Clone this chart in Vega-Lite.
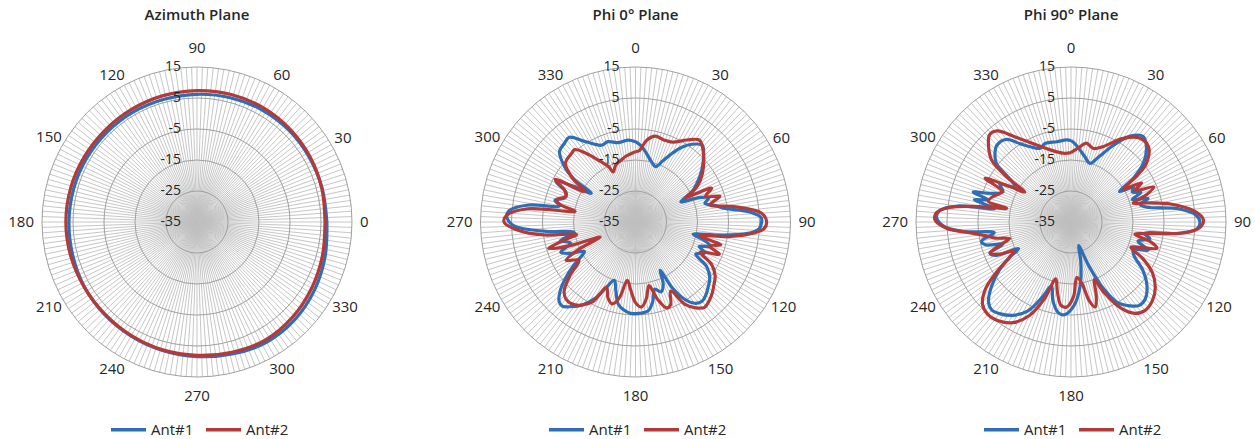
{
"$schema": "https://vega.github.io/schema/vega-lite/v6.json",
"padding": 0,
"spacing": 0,
"bounds": "flush",
"config": {"view": {"stroke": null}, "font": "Open Sans"},
"resolve": {"scale": {"color": "independent"}, "legend": {"color": "independent"}},
"datasets": {
"spokes": [{"a":0},{"a":2},{"a":4},{"a":6},{"a":8},{"a":10},{"a":12},{"a":14},{"a":16},{"a":18},{"a":20},{"a":22},{"a":24},{"a":26},{"a":28},{"a":30},{"a":32},{"a":34},{"a":36},{"a":38},{"a":40},{"a":42},{"a":44},{"a":46},{"a":48},{"a":50},{"a":52},{"a":54},{"a":56},{"a":58},{"a":60},{"a":62},{"a":64},{"a":66},{"a":68},{"a":70},{"a":72},{"a":74},{"a":76},{"a":78},{"a":80},{"a":82},{"a":84},{"a":86},{"a":88},{"a":90},{"a":92},{"a":94},{"a":96},{"a":98},{"a":100},{"a":102},{"a":104},{"a":106},{"a":108},{"a":110},{"a":112},{"a":114},{"a":116},{"a":118},{"a":120},{"a":122},{"a":124},{"a":126},{"a":128},{"a":130},{"a":132},{"a":134},{"a":136},{"a":138},{"a":140},{"a":142},{"a":144},{"a":146},{"a":148},{"a":150},{"a":152},{"a":154},{"a":156},{"a":158},{"a":160},{"a":162},{"a":164},{"a":166},{"a":168},{"a":170},{"a":172},{"a":174},{"a":176},{"a":178},{"a":180},{"a":182},{"a":184},{"a":186},{"a":188},{"a":190},{"a":192},{"a":194},{"a":196},{"a":198},{"a":200},{"a":202},{"a":204},{"a":206},{"a":208},{"a":210},{"a":212},{"a":214},{"a":216},{"a":218},{"a":220},{"a":222},{"a":224},{"a":226},{"a":228},{"a":230},{"a":232},{"a":234},{"a":236},{"a":238},{"a":240},{"a":242},{"a":244},{"a":246},{"a":248},{"a":250},{"a":252},{"a":254},{"a":256},{"a":258},{"a":260},{"a":262},{"a":264},{"a":266},{"a":268},{"a":270},{"a":272},{"a":274},{"a":276},{"a":278},{"a":280},{"a":282},{"a":284},{"a":286},{"a":288},{"a":290},{"a":292},{"a":294},{"a":296},{"a":298},{"a":300},{"a":302},{"a":304},{"a":306},{"a":308},{"a":310},{"a":312},{"a":314},{"a":316},{"a":318},{"a":320},{"a":322},{"a":324},{"a":326},{"a":328},{"a":330},{"a":332},{"a":334},{"a":336},{"a":338},{"a":340},{"a":342},{"a":344},{"a":346},{"a":348},{"a":350},{"a":352},{"a":354},{"a":356},{"a":358}],
"rings": [{"v":15},{"v":5},{"v":-5},{"v":-15},{"v":-25},{"v":-35}],
"angles": [{"a":0},{"a":30},{"a":60},{"a":90},{"a":120},{"a":150},{"a":180},{"a":210},{"a":240},{"a":270},{"a":300},{"a":330}],
"az": [
{"ant":"Ant#1","a":0,"v":6.9},{"ant":"Ant#1","a":15,"v":6.8},{"ant":"Ant#1","a":30,"v":6.8},{"ant":"Ant#1","a":45,"v":6.9},{"ant":"Ant#1","a":60,"v":6.8},{"ant":"Ant#1","a":75,"v":6.5},{"ant":"Ant#1","a":90,"v":6.2},{"ant":"Ant#1","a":105,"v":6.0},{"ant":"Ant#1","a":120,"v":6.0},{"ant":"Ant#1","a":135,"v":6.0},{"ant":"Ant#1","a":150,"v":6.1},{"ant":"Ant#1","a":165,"v":6.2},{"ant":"Ant#1","a":180,"v":6.3},{"ant":"Ant#1","a":195,"v":6.5},{"ant":"Ant#1","a":210,"v":6.9},{"ant":"Ant#1","a":225,"v":7.2},{"ant":"Ant#1","a":240,"v":7.5},{"ant":"Ant#1","a":255,"v":7.9},{"ant":"Ant#1","a":270,"v":8.4},{"ant":"Ant#1","a":285,"v":9.1},{"ant":"Ant#1","a":300,"v":9.8},{"ant":"Ant#1","a":315,"v":9.6},{"ant":"Ant#1","a":330,"v":8.8},{"ant":"Ant#1","a":345,"v":7.8},{"ant":"Ant#1","a":360,"v":6.9},
{"ant":"Ant#2","a":0,"v":6.3},{"ant":"Ant#2","a":15,"v":6.7},{"ant":"Ant#2","a":30,"v":7.1},{"ant":"Ant#2","a":45,"v":7.4},{"ant":"Ant#2","a":60,"v":7.6},{"ant":"Ant#2","a":75,"v":7.6},{"ant":"Ant#2","a":90,"v":7.4},{"ant":"Ant#2","a":105,"v":7.2},{"ant":"Ant#2","a":120,"v":7.0},{"ant":"Ant#2","a":135,"v":6.9},{"ant":"Ant#2","a":150,"v":7.0},{"ant":"Ant#2","a":165,"v":7.2},{"ant":"Ant#2","a":180,"v":7.3},{"ant":"Ant#2","a":195,"v":7.2},{"ant":"Ant#2","a":210,"v":7.0},{"ant":"Ant#2","a":225,"v":7.0},{"ant":"Ant#2","a":240,"v":7.3},{"ant":"Ant#2","a":255,"v":7.7},{"ant":"Ant#2","a":270,"v":8.0},{"ant":"Ant#2","a":285,"v":8.5},{"ant":"Ant#2","a":300,"v":9.0},{"ant":"Ant#2","a":315,"v":8.5},{"ant":"Ant#2","a":330,"v":7.7},{"ant":"Ant#2","a":345,"v":6.9},{"ant":"Ant#2","a":360,"v":6.3}
],
"p0": [
{"ant":"Ant#1","a":0,"v":-9.1},{"ant":"Ant#1","a":4,"v":-10.3},{"ant":"Ant#1","a":8,"v":-12.1},{"ant":"Ant#1","a":14,"v":-14.6},{"ant":"Ant#1","a":20,"v":-16},{"ant":"Ant#1","a":24,"v":-13.5},{"ant":"Ant#1","a":28,"v":-10},{"ant":"Ant#1","a":32,"v":-6.5},{"ant":"Ant#1","a":36,"v":-4},{"ant":"Ant#1","a":41,"v":-2.2},{"ant":"Ant#1","a":45,"v":-3.9},{"ant":"Ant#1","a":52,"v":-7.9},{"ant":"Ant#1","a":58,"v":-11.7},{"ant":"Ant#1","a":62,"v":-14.4},{"ant":"Ant#1","a":66,"v":-19},{"ant":"Ant#1","a":69,"v":-13},{"ant":"Ant#1","a":72,"v":-10.2},{"ant":"Ant#1","a":75,"v":-11.8},{"ant":"Ant#1","a":78,"v":-9},{"ant":"Ant#1","a":81,"v":-6.3},{"ant":"Ant#1","a":85,"v":2},{"ant":"Ant#1","a":88,"v":5.6},{"ant":"Ant#1","a":90,"v":5.7},{"ant":"Ant#1","a":93,"v":5},{"ant":"Ant#1","a":96,"v":1},{"ant":"Ant#1","a":99,"v":-8},{"ant":"Ant#1","a":102,"v":-16},{"ant":"Ant#1","a":105,"v":-12},{"ant":"Ant#1","a":108,"v":-9.5},{"ant":"Ant#1","a":111,"v":-13},{"ant":"Ant#1","a":114,"v":-10.5},{"ant":"Ant#1","a":118,"v":-13},{"ant":"Ant#1","a":122,"v":-8},{"ant":"Ant#1","a":127,"v":-5},{"ant":"Ant#1","a":132,"v":-3.5},{"ant":"Ant#1","a":136,"v":-2.3},{"ant":"Ant#1","a":140,"v":-1.6},{"ant":"Ant#1","a":144,"v":-2.6},{"ant":"Ant#1","a":148,"v":-6},{"ant":"Ant#1","a":151,"v":-11},{"ant":"Ant#1","a":153,"v":-17.5},{"ant":"Ant#1","a":156,"v":-13},{"ant":"Ant#1","a":160,"v":-11},{"ant":"Ant#1","a":164,"v":-12.5},{"ant":"Ant#1","a":168,"v":-8.5},{"ant":"Ant#1","a":172,"v":-6},{"ant":"Ant#1","a":178,"v":-5.5},{"ant":"Ant#1","a":183,"v":-5.5},{"ant":"Ant#1","a":188,"v":-6.5},{"ant":"Ant#1","a":192,"v":-8},{"ant":"Ant#1","a":196,"v":-12},{"ant":"Ant#1","a":200,"v":-15},{"ant":"Ant#1","a":204,"v":-12},{"ant":"Ant#1","a":208,"v":-7},{"ant":"Ant#1","a":213,"v":-3},{"ant":"Ant#1","a":218,"v":-0.3},{"ant":"Ant#1","a":221,"v":1.0},{"ant":"Ant#1","a":224,"v":0.5},{"ant":"Ant#1","a":228,"v":-2.5},{"ant":"Ant#1","a":232,"v":-7},{"ant":"Ant#1","a":236,"v":-12},{"ant":"Ant#1","a":240,"v":-16},{"ant":"Ant#1","a":244,"v":-12},{"ant":"Ant#1","a":248,"v":-9},{"ant":"Ant#1","a":252,"v":-13},{"ant":"Ant#1","a":256,"v":-10},{"ant":"Ant#1","a":260,"v":-15},{"ant":"Ant#1","a":264,"v":-6},{"ant":"Ant#1","a":268,"v":4},{"ant":"Ant#1","a":272,"v":6.5},{"ant":"Ant#1","a":275,"v":6},{"ant":"Ant#1","a":279,"v":0},{"ant":"Ant#1","a":282,"v":-10},{"ant":"Ant#1","a":285,"v":-8.1},{"ant":"Ant#1","a":289,"v":-11},{"ant":"Ant#1","a":293,"v":-10.7},{"ant":"Ant#1","a":297,"v":-6.2},{"ant":"Ant#1","a":300,"v":-12},{"ant":"Ant#1","a":303,"v":-18},{"ant":"Ant#1","a":305,"v":-10.4},{"ant":"Ant#1","a":308,"v":-5.9},{"ant":"Ant#1","a":313,"v":-1.5},{"ant":"Ant#1","a":318,"v":-0.8},{"ant":"Ant#1","a":322,"v":-0.3},{"ant":"Ant#1","a":328,"v":-4.4},{"ant":"Ant#1","a":336,"v":-7.9},{"ant":"Ant#1","a":341,"v":-7.6},{"ant":"Ant#1","a":348,"v":-8.8},{"ant":"Ant#1","a":355,"v":-8.5},{"ant":"Ant#1","a":360,"v":-9.1},
{"ant":"Ant#2","a":0,"v":-12.3},{"ant":"Ant#2","a":3,"v":-12},{"ant":"Ant#2","a":5,"v":-10.6},{"ant":"Ant#2","a":8,"v":-8.3},{"ant":"Ant#2","a":13,"v":-6.6},{"ant":"Ant#2","a":19,"v":-7},{"ant":"Ant#2","a":25,"v":-6.6},{"ant":"Ant#2","a":32,"v":-3.8},{"ant":"Ant#2","a":38,"v":-1.5},{"ant":"Ant#2","a":43,"v":-3.1},{"ant":"Ant#2","a":51,"v":-6.8},{"ant":"Ant#2","a":57,"v":-10},{"ant":"Ant#2","a":61,"v":-13},{"ant":"Ant#2","a":64,"v":-17},{"ant":"Ant#2","a":66,"v":-8.1},{"ant":"Ant#2","a":70,"v":-11},{"ant":"Ant#2","a":73,"v":-6.5},{"ant":"Ant#2","a":77,"v":-10.4},{"ant":"Ant#2","a":81,"v":-3},{"ant":"Ant#2","a":86,"v":5.8},{"ant":"Ant#2","a":90,"v":7.3},{"ant":"Ant#2","a":93,"v":6.5},{"ant":"Ant#2","a":96,"v":2},{"ant":"Ant#2","a":99,"v":-5},{"ant":"Ant#2","a":102,"v":-13.8},{"ant":"Ant#2","a":105,"v":-6.5},{"ant":"Ant#2","a":108,"v":-10},{"ant":"Ant#2","a":111,"v":-6},{"ant":"Ant#2","a":115,"v":-12},{"ant":"Ant#2","a":119,"v":-7},{"ant":"Ant#2","a":124,"v":-4},{"ant":"Ant#2","a":129,"v":-2.5},{"ant":"Ant#2","a":133,"v":-1.2},{"ant":"Ant#2","a":137,"v":-0.2},{"ant":"Ant#2","a":141,"v":0.4},{"ant":"Ant#2","a":145,"v":-1.2},{"ant":"Ant#2","a":149,"v":-4},{"ant":"Ant#2","a":153,"v":-10},{"ant":"Ant#2","a":157,"v":-6},{"ant":"Ant#2","a":160,"v":-5.5},{"ant":"Ant#2","a":164,"v":-9},{"ant":"Ant#2","a":168,"v":-14},{"ant":"Ant#2","a":172,"v":-10},{"ant":"Ant#2","a":176,"v":-7.5},{"ant":"Ant#2","a":180,"v":-9},{"ant":"Ant#2","a":184,"v":-13},{"ant":"Ant#2","a":188,"v":-16},{"ant":"Ant#2","a":192,"v":-10},{"ant":"Ant#2","a":196,"v":-7.5},{"ant":"Ant#2","a":200,"v":-9},{"ant":"Ant#2","a":204,"v":-12},{"ant":"Ant#2","a":208,"v":-6},{"ant":"Ant#2","a":213,"v":-3},{"ant":"Ant#2","a":218,"v":-1.5},{"ant":"Ant#2","a":222,"v":-1.5},{"ant":"Ant#2","a":226,"v":-3},{"ant":"Ant#2","a":231,"v":-8},{"ant":"Ant#2","a":236,"v":-13},{"ant":"Ant#2","a":241,"v":-9.4},{"ant":"Ant#2","a":244,"v":-14},{"ant":"Ant#2","a":247,"v":-22.6},{"ant":"Ant#2","a":250,"v":-13},{"ant":"Ant#2","a":253,"v":-5.7},{"ant":"Ant#2","a":256,"v":-12},{"ant":"Ant#2","a":258,"v":-15.6},{"ant":"Ant#2","a":262,"v":-5},{"ant":"Ant#2","a":266,"v":3},{"ant":"Ant#2","a":270,"v":7.4},{"ant":"Ant#2","a":273,"v":6.6},{"ant":"Ant#2","a":277,"v":0},{"ant":"Ant#2","a":280,"v":-15.2},{"ant":"Ant#2","a":283,"v":-10},{"ant":"Ant#2","a":286,"v":-8.6},{"ant":"Ant#2","a":290,"v":-11},{"ant":"Ant#2","a":294,"v":-10},{"ant":"Ant#2","a":298,"v":-5.6},{"ant":"Ant#2","a":301,"v":-16},{"ant":"Ant#2","a":305,"v":-10},{"ant":"Ant#2","a":310,"v":-5.5},{"ant":"Ant#2","a":317,"v":-4.75},{"ant":"Ant#2","a":320,"v":-4.5},{"ant":"Ant#2","a":324,"v":-7.5},{"ant":"Ant#2","a":329,"v":-11.7},{"ant":"Ant#2","a":334,"v":-15.1},{"ant":"Ant#2","a":336,"v":-17.3},{"ant":"Ant#2","a":341,"v":-15.5},{"ant":"Ant#2","a":347,"v":-14.5},{"ant":"Ant#2","a":352,"v":-13.5},{"ant":"Ant#2","a":357,"v":-12.8},{"ant":"Ant#2","a":360,"v":-12.3}
],
"p90": [
{"ant":"Ant#1","a":0,"v":-8.7},{"ant":"Ant#1","a":2,"v":-9.4},{"ant":"Ant#1","a":6,"v":-11.1},{"ant":"Ant#1","a":12,"v":-13.5},{"ant":"Ant#1","a":18,"v":-15.1},{"ant":"Ant#1","a":23,"v":-12.2},{"ant":"Ant#1","a":29,"v":-6.7},{"ant":"Ant#1","a":34.5,"v":-1.4},{"ant":"Ant#1","a":40,"v":1.1},{"ant":"Ant#1","a":45,"v":-0.6},{"ant":"Ant#1","a":51,"v":-5},{"ant":"Ant#1","a":55,"v":-10.5},{"ant":"Ant#1","a":58,"v":-16.5},{"ant":"Ant#1","a":61,"v":-12},{"ant":"Ant#1","a":64,"v":-13},{"ant":"Ant#1","a":67,"v":-10.5},{"ant":"Ant#1","a":70,"v":-14},{"ant":"Ant#1","a":73,"v":-9},{"ant":"Ant#1","a":76,"v":-12},{"ant":"Ant#1","a":79,"v":-10},{"ant":"Ant#1","a":83,"v":0},{"ant":"Ant#1","a":87,"v":5.5},{"ant":"Ant#1","a":90,"v":6.6},{"ant":"Ant#1","a":93,"v":5.8},{"ant":"Ant#1","a":96,"v":0},{"ant":"Ant#1","a":99,"v":-11},{"ant":"Ant#1","a":102,"v":-9},{"ant":"Ant#1","a":106,"v":-12.5},{"ant":"Ant#1","a":110,"v":-8.5},{"ant":"Ant#1","a":114,"v":-13},{"ant":"Ant#1","a":118,"v":-12},{"ant":"Ant#1","a":124,"v":-7},{"ant":"Ant#1","a":130,"v":-3},{"ant":"Ant#1","a":136,"v":-0.5},{"ant":"Ant#1","a":141,"v":-0.3},{"ant":"Ant#1","a":145,"v":-2},{"ant":"Ant#1","a":150,"v":-5},{"ant":"Ant#1","a":154,"v":-11},{"ant":"Ant#1","a":158,"v":-20},{"ant":"Ant#1","a":162,"v":-27},{"ant":"Ant#1","a":166,"v":-22},{"ant":"Ant#1","a":172,"v":-14},{"ant":"Ant#1","a":178,"v":-8},{"ant":"Ant#1","a":184,"v":-5},{"ant":"Ant#1","a":188,"v":-5.5},{"ant":"Ant#1","a":193,"v":-9},{"ant":"Ant#1","a":197,"v":-13.5},{"ant":"Ant#1","a":201,"v":-9},{"ant":"Ant#1","a":206,"v":-3},{"ant":"Ant#1","a":212,"v":0.5},{"ant":"Ant#1","a":218,"v":2.5},{"ant":"Ant#1","a":222,"v":3.2},{"ant":"Ant#1","a":226,"v":2},{"ant":"Ant#1","a":231,"v":-2},{"ant":"Ant#1","a":236,"v":-7},{"ant":"Ant#1","a":240,"v":-12},{"ant":"Ant#1","a":243,"v":-16},{"ant":"Ant#1","a":246,"v":-8.5},{"ant":"Ant#1","a":249,"v":-7},{"ant":"Ant#1","a":252,"v":-12},{"ant":"Ant#1","a":255,"v":-6.5},{"ant":"Ant#1","a":258,"v":-5.5},{"ant":"Ant#1","a":262,"v":-10},{"ant":"Ant#1","a":265,"v":0},{"ant":"Ant#1","a":268,"v":6},{"ant":"Ant#1","a":272,"v":8.4},{"ant":"Ant#1","a":275,"v":7.5},{"ant":"Ant#1","a":278,"v":2},{"ant":"Ant#1","a":280,"v":-10},{"ant":"Ant#1","a":283,"v":-3},{"ant":"Ant#1","a":285,"v":-7.4},{"ant":"Ant#1","a":287,"v":-2},{"ant":"Ant#1","a":290,"v":-8},{"ant":"Ant#1","a":294,"v":-11},{"ant":"Ant#1","a":298,"v":-9},{"ant":"Ant#1","a":302,"v":-14},{"ant":"Ant#1","a":305,"v":-11},{"ant":"Ant#1","a":308,"v":-4.5},{"ant":"Ant#1","a":312,"v":-2},{"ant":"Ant#1","a":316,"v":-0.6},{"ant":"Ant#1","a":322,"v":-1.2},{"ant":"Ant#1","a":327,"v":-4.9},{"ant":"Ant#1","a":333,"v":-8},{"ant":"Ant#1","a":337,"v":-9.2},{"ant":"Ant#1","a":342,"v":-8.3},{"ant":"Ant#1","a":350,"v":-8.7},{"ant":"Ant#1","a":357,"v":-8.5},{"ant":"Ant#1","a":360,"v":-8.7},
{"ant":"Ant#2","a":0,"v":-12.6},{"ant":"Ant#2","a":4,"v":-11.5},{"ant":"Ant#2","a":7,"v":-10.5},{"ant":"Ant#2","a":11,"v":-9.1},{"ant":"Ant#2","a":17,"v":-10.2},{"ant":"Ant#2","a":23,"v":-8.6},{"ant":"Ant#2","a":32,"v":-3.2},{"ant":"Ant#2","a":39.5,"v":0},{"ant":"Ant#2","a":46,"v":-0.2},{"ant":"Ant#2","a":52,"v":-4.1},{"ant":"Ant#2","a":55,"v":-9},{"ant":"Ant#2","a":58,"v":-15},{"ant":"Ant#2","a":61,"v":-9},{"ant":"Ant#2","a":64,"v":-12},{"ant":"Ant#2","a":67,"v":-6},{"ant":"Ant#2","a":70,"v":-9},{"ant":"Ant#2","a":73,"v":-14},{"ant":"Ant#2","a":76,"v":-9.5},{"ant":"Ant#2","a":80,"v":-2},{"ant":"Ant#2","a":85,"v":5},{"ant":"Ant#2","a":89,"v":7.7},{"ant":"Ant#2","a":92,"v":7},{"ant":"Ant#2","a":95,"v":3},{"ant":"Ant#2","a":98,"v":-8},{"ant":"Ant#2","a":101,"v":-14},{"ant":"Ant#2","a":104,"v":-8.5},{"ant":"Ant#2","a":107,"v":-6},{"ant":"Ant#2","a":110,"v":-11},{"ant":"Ant#2","a":113,"v":-14},{"ant":"Ant#2","a":117,"v":-9},{"ant":"Ant#2","a":122,"v":-4},{"ant":"Ant#2","a":128,"v":-0.5},{"ant":"Ant#2","a":134,"v":1.5},{"ant":"Ant#2","a":140,"v":2.2},{"ant":"Ant#2","a":145,"v":1},{"ant":"Ant#2","a":150,"v":-3},{"ant":"Ant#2","a":155,"v":-10},{"ant":"Ant#2","a":158,"v":-15},{"ant":"Ant#2","a":161,"v":-10},{"ant":"Ant#2","a":164,"v":-6.5},{"ant":"Ant#2","a":167,"v":-9},{"ant":"Ant#2","a":170,"v":-15},{"ant":"Ant#2","a":174,"v":-17},{"ant":"Ant#2","a":178,"v":-11},{"ant":"Ant#2","a":183,"v":-7.5},{"ant":"Ant#2","a":187,"v":-8},{"ant":"Ant#2","a":191,"v":-12},{"ant":"Ant#2","a":195,"v":-16},{"ant":"Ant#2","a":199,"v":-9},{"ant":"Ant#2","a":204,"v":-2},{"ant":"Ant#2","a":210,"v":2.5},{"ant":"Ant#2","a":216,"v":4.5},{"ant":"Ant#2","a":222,"v":5.1},{"ant":"Ant#2","a":227,"v":4},{"ant":"Ant#2","a":232,"v":0},{"ant":"Ant#2","a":236,"v":-6},{"ant":"Ant#2","a":240,"v":-12},{"ant":"Ant#2","a":243,"v":-14.5},{"ant":"Ant#2","a":246,"v":-9.5},{"ant":"Ant#2","a":249,"v":-7},{"ant":"Ant#2","a":252,"v":-11},{"ant":"Ant#2","a":255,"v":-14.5},{"ant":"Ant#2","a":258,"v":-10},{"ant":"Ant#2","a":261,"v":-7},{"ant":"Ant#2","a":264,"v":-2},{"ant":"Ant#2","a":267,"v":5},{"ant":"Ant#2","a":271,"v":8.9},{"ant":"Ant#2","a":274,"v":8.5},{"ant":"Ant#2","a":277,"v":4},{"ant":"Ant#2","a":280,"v":-7},{"ant":"Ant#2","a":282,"v":-13.8},{"ant":"Ant#2","a":284,"v":-7.5},{"ant":"Ant#2","a":288,"v":-8.5},{"ant":"Ant#2","a":291,"v":-10},{"ant":"Ant#2","a":294,"v":-10.6},{"ant":"Ant#2","a":297,"v":-3.9},{"ant":"Ant#2","a":300,"v":-12},{"ant":"Ant#2","a":303,"v":-17.2},{"ant":"Ant#2","a":305,"v":-10},{"ant":"Ant#2","a":308,"v":-2.5},{"ant":"Ant#2","a":313,"v":1.4},{"ant":"Ant#2","a":317,"v":3.5},{"ant":"Ant#2","a":321,"v":2.8},{"ant":"Ant#2","a":327,"v":-2.4},{"ant":"Ant#2","a":336,"v":-7.8},{"ant":"Ant#2","a":344,"v":-10.8},{"ant":"Ant#2","a":354,"v":-12.7},{"ant":"Ant#2","a":360,"v":-12.6}
]
},
"hconcat": [
{
"width": 418, "height": 439,
"layer": [
{"data": {"name": "spokes"},
 "transform": [{"calculate": "0", "as": "z"}, {"calculate": "50*cos(datum.a*PI/180)", "as": "x2"}, {"calculate": "50*sin(datum.a*PI/180)", "as": "y2"}],
 "mark": {"type": "rule", "stroke": "#bfbfbf", "strokeWidth": 0.9},
 "encoding": {"x": {"field": "z", "type": "quantitative", "scale": {"domain": [-63.548, 71.29], "nice": false, "zero": false}, "axis": null},
  "y": {"field": "z", "type": "quantitative", "scale": {"domain": [-70.0, 71.613], "nice": false, "zero": false}, "axis": null},
  "x2": {"field": "x2"}, "y2": {"field": "y2"}}},
{"data": {"name": "rings"},
 "transform": [{"calculate": "0", "as": "z"}, {"calculate": "datum.v+35", "as": "r"}],
 "mark": {"type": "point", "shape": "circle", "filled": false, "stroke": "#a0a0a0", "strokeWidth": 1, "opacity": 1},
 "encoding": {"x": {"field": "z", "type": "quantitative"}, "y": {"field": "z", "type": "quantitative"},
  "size": {"field": "r", "type": "quantitative", "scale": {"type": "pow", "exponent": 2, "domain": [0, 50], "range": [0, 96100]}, "legend": null}}},
{"data": {"name": "az"},
 "transform": [{"calculate": "(datum.v+35)*cos(datum.a*PI/180)", "as": "x"}, {"calculate": "(datum.v+35)*sin(datum.a*PI/180)", "as": "y"}],
 "mark": {"type": "line", "strokeWidth": 3.2, "strokeJoin": "round", "interpolate": "catmull-rom"},
 "encoding": {"x": {"field": "x", "type": "quantitative"}, "y": {"field": "y", "type": "quantitative"},
  "order": {"field": "a", "type": "quantitative"},
  "color": {"field": "ant", "type": "nominal", "scale": {"domain": ["Ant#1", "Ant#2"], "range": ["#2f6eb5", "#b43a3a"]},
   "legend": {"orient": "none", "legendX": 109, "legendY": 410, "direction": "horizontal", "title": null, "symbolType": "stroke", "symbolSize": 1225, "symbolStrokeWidth": 3.5, "labelFontSize": 15, "labelColor": "#262626", "labelOffset": 3, "columnPadding": 5, "padding": 0}}}},
{"data": {"name": "rings"},
 "transform": [{"calculate": "0", "as": "z"}, {"calculate": "datum.v+35", "as": "r"}, {"calculate": "toString(datum.v)", "as": "t"}],
 "mark": {"type": "text", "align": "right", "baseline": "middle", "dx": -16, "fontSize": 14, "color": "#262626"},
 "encoding": {"x": {"field": "z", "type": "quantitative"}, "y": {"field": "r", "type": "quantitative"}, "text": {"field": "t", "type": "nominal"}}},
{"data": {"name": "angles"},
 "transform": [{"calculate": "toString(datum.a)", "as": "t"}, {"calculate": "length(datum.t)", "as": "len"},
  {"calculate": "(163 + 4.3*datum.len*pow(abs(cos(datum.a*PI/180)),4) + 11*pow(abs(sin(datum.a*PI/180)),4))/3.1", "as": "R"},
  {"calculate": "datum.R*cos(datum.a*PI/180)", "as": "x"}, {"calculate": "datum.R*sin(datum.a*PI/180)", "as": "y"}],
 "mark": {"type": "text", "align": "center", "baseline": "middle", "fontSize": 15, "color": "#262626"},
 "encoding": {"x": {"field": "x", "type": "quantitative"}, "y": {"field": "y", "type": "quantitative"}, "text": {"field": "t", "type": "nominal"}}},
{"data": {"values": [{"t": "Azimuth Plane"}]},
 "transform": [{"calculate": "0", "as": "z"}, {"calculate": "66.8", "as": "ty"}],
 "mark": {"type": "text", "align": "center", "baseline": "middle", "fontSize": 15, "fontWeight": 600, "color": "#262626"},
 "encoding": {"x": {"field": "z", "type": "quantitative"}, "y": {"field": "ty", "type": "quantitative"}, "text": {"field": "t", "type": "nominal"}}}
]
},
{
"width": 418, "height": 439,
"layer": [
{"data": {"name": "spokes"},
 "transform": [{"calculate": "0", "as": "z"}, {"calculate": "50*sin(datum.a*PI/180)", "as": "x2"}, {"calculate": "50*cos(datum.a*PI/180)", "as": "y2"}],
 "mark": {"type": "rule", "stroke": "#bfbfbf", "strokeWidth": 0.9},
 "encoding": {"x": {"field": "z", "type": "quantitative", "scale": {"domain": [-70.161, 64.677], "nice": false, "zero": false}, "axis": null},
  "y": {"field": "z", "type": "quantitative", "scale": {"domain": [-70.0, 71.613], "nice": false, "zero": false}, "axis": null},
  "x2": {"field": "x2"}, "y2": {"field": "y2"}}},
{"data": {"name": "rings"},
 "transform": [{"calculate": "0", "as": "z"}, {"calculate": "datum.v+35", "as": "r"}],
 "mark": {"type": "point", "shape": "circle", "filled": false, "stroke": "#a0a0a0", "strokeWidth": 1, "opacity": 1},
 "encoding": {"x": {"field": "z", "type": "quantitative"}, "y": {"field": "z", "type": "quantitative"},
  "size": {"field": "r", "type": "quantitative", "scale": {"type": "pow", "exponent": 2, "domain": [0, 50], "range": [0, 96100]}, "legend": null}}},
{"data": {"name": "p0"},
 "transform": [{"calculate": "(datum.v+35)*sin(datum.a*PI/180)", "as": "x"}, {"calculate": "(datum.v+35)*cos(datum.a*PI/180)", "as": "y"}],
 "mark": {"type": "line", "strokeWidth": 3.2, "strokeJoin": "round", "interpolate": "catmull-rom"},
 "encoding": {"x": {"field": "x", "type": "quantitative"}, "y": {"field": "y", "type": "quantitative"},
  "order": {"field": "a", "type": "quantitative"},
  "color": {"field": "ant", "type": "nominal", "scale": {"domain": ["Ant#1", "Ant#2"], "range": ["#2f6eb5", "#b43a3a"]},
   "legend": {"orient": "none", "legendX": 129, "legendY": 410, "direction": "horizontal", "title": null, "symbolType": "stroke", "symbolSize": 1225, "symbolStrokeWidth": 3.5, "labelFontSize": 15, "labelColor": "#262626", "labelOffset": 3, "columnPadding": 5, "padding": 0}}}},
{"data": {"name": "rings"},
 "transform": [{"calculate": "0", "as": "z"}, {"calculate": "datum.v+35", "as": "r"}, {"calculate": "toString(datum.v)", "as": "t"}],
 "mark": {"type": "text", "align": "right", "baseline": "middle", "dx": -16, "fontSize": 14, "color": "#262626"},
 "encoding": {"x": {"field": "z", "type": "quantitative"}, "y": {"field": "r", "type": "quantitative"}, "text": {"field": "t", "type": "nominal"}}},
{"data": {"name": "angles"},
 "transform": [{"calculate": "toString(datum.a)", "as": "t"}, {"calculate": "length(datum.t)", "as": "len"},
  {"calculate": "(163 + 4.3*datum.len*pow(abs(sin(datum.a*PI/180)),4) + 11*pow(abs(cos(datum.a*PI/180)),4))/3.1", "as": "R"},
  {"calculate": "datum.R*sin(datum.a*PI/180)", "as": "x"}, {"calculate": "datum.R*cos(datum.a*PI/180)", "as": "y"}],
 "mark": {"type": "text", "align": "center", "baseline": "middle", "fontSize": 15, "color": "#262626"},
 "encoding": {"x": {"field": "x", "type": "quantitative"}, "y": {"field": "y", "type": "quantitative"}, "text": {"field": "t", "type": "nominal"}}},
{"data": {"values": [{"t": "Phi 0° Plane"}]},
 "transform": [{"calculate": "0", "as": "z"}, {"calculate": "66.8", "as": "ty"}],
 "mark": {"type": "text", "align": "center", "baseline": "middle", "fontSize": 15, "fontWeight": 600, "color": "#262626"},
 "encoding": {"x": {"field": "z", "type": "quantitative"}, "y": {"field": "ty", "type": "quantitative"}, "text": {"field": "t", "type": "nominal"}}}
]
},
{
"width": 419, "height": 439,
"layer": [
{"data": {"name": "spokes"},
 "transform": [{"calculate": "0", "as": "z"}, {"calculate": "50*sin(datum.a*PI/180)", "as": "x2"}, {"calculate": "50*cos(datum.a*PI/180)", "as": "y2"}],
 "mark": {"type": "rule", "stroke": "#bfbfbf", "strokeWidth": 0.9},
 "encoding": {"x": {"field": "z", "type": "quantitative", "scale": {"domain": [-75.806, 59.355], "nice": false, "zero": false}, "axis": null},
  "y": {"field": "z", "type": "quantitative", "scale": {"domain": [-70.0, 71.613], "nice": false, "zero": false}, "axis": null},
  "x2": {"field": "x2"}, "y2": {"field": "y2"}}},
{"data": {"name": "rings"},
 "transform": [{"calculate": "0", "as": "z"}, {"calculate": "datum.v+35", "as": "r"}],
 "mark": {"type": "point", "shape": "circle", "filled": false, "stroke": "#a0a0a0", "strokeWidth": 1, "opacity": 1},
 "encoding": {"x": {"field": "z", "type": "quantitative"}, "y": {"field": "z", "type": "quantitative"},
  "size": {"field": "r", "type": "quantitative", "scale": {"type": "pow", "exponent": 2, "domain": [0, 50], "range": [0, 96100]}, "legend": null}}},
{"data": {"name": "p90"},
 "transform": [{"calculate": "(datum.v+35)*sin(datum.a*PI/180)", "as": "x"}, {"calculate": "(datum.v+35)*cos(datum.a*PI/180)", "as": "y"}],
 "mark": {"type": "line", "strokeWidth": 3.2, "strokeJoin": "round", "interpolate": "catmull-rom"},
 "encoding": {"x": {"field": "x", "type": "quantitative"}, "y": {"field": "y", "type": "quantitative"},
  "order": {"field": "a", "type": "quantitative"},
  "color": {"field": "ant", "type": "nominal", "scale": {"domain": ["Ant#1", "Ant#2"], "range": ["#2f6eb5", "#b43a3a"]},
   "legend": {"orient": "none", "legendX": 146, "legendY": 410, "direction": "horizontal", "title": null, "symbolType": "stroke", "symbolSize": 1225, "symbolStrokeWidth": 3.5, "labelFontSize": 15, "labelColor": "#262626", "labelOffset": 3, "columnPadding": 5, "padding": 0}}}},
{"data": {"name": "rings"},
 "transform": [{"calculate": "0", "as": "z"}, {"calculate": "datum.v+35", "as": "r"}, {"calculate": "toString(datum.v)", "as": "t"}],
 "mark": {"type": "text", "align": "right", "baseline": "middle", "dx": -16, "fontSize": 14, "color": "#262626"},
 "encoding": {"x": {"field": "z", "type": "quantitative"}, "y": {"field": "r", "type": "quantitative"}, "text": {"field": "t", "type": "nominal"}}},
{"data": {"name": "angles"},
 "transform": [{"calculate": "toString(datum.a)", "as": "t"}, {"calculate": "length(datum.t)", "as": "len"},
  {"calculate": "(163 + 4.3*datum.len*pow(abs(sin(datum.a*PI/180)),4) + 11*pow(abs(cos(datum.a*PI/180)),4))/3.1", "as": "R"},
  {"calculate": "datum.R*sin(datum.a*PI/180)", "as": "x"}, {"calculate": "datum.R*cos(datum.a*PI/180)", "as": "y"}],
 "mark": {"type": "text", "align": "center", "baseline": "middle", "fontSize": 15, "color": "#262626"},
 "encoding": {"x": {"field": "x", "type": "quantitative"}, "y": {"field": "y", "type": "quantitative"}, "text": {"field": "t", "type": "nominal"}}},
{"data": {"values": [{"t": "Phi 90° Plane"}]},
 "transform": [{"calculate": "0", "as": "z"}, {"calculate": "66.8", "as": "ty"}],
 "mark": {"type": "text", "align": "center", "baseline": "middle", "fontSize": 15, "fontWeight": 600, "color": "#262626"},
 "encoding": {"x": {"field": "z", "type": "quantitative"}, "y": {"field": "ty", "type": "quantitative"}, "text": {"field": "t", "type": "nominal"}}}
]
}
]
}
